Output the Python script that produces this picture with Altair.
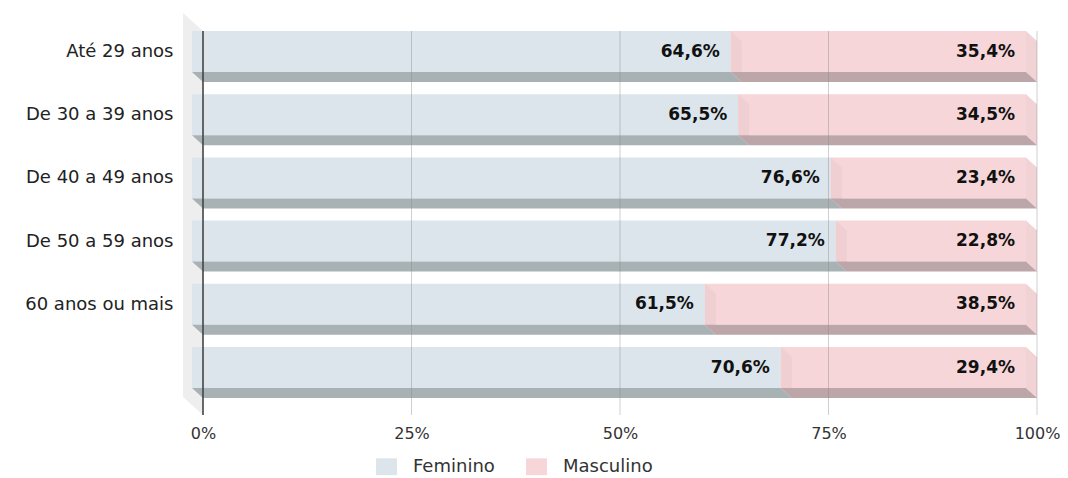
import json
import altair as alt
import pandas as pd

# ---------------- data ----------------
categories = ["Até 29 anos", "De 30 a 39 anos", "De 40 a 49 anos",
              "De 50 a 59 anos", "60 anos ou mais", ""]
feminino = [64.6, 65.5, 76.6, 77.2, 61.5, 70.6]
masculino = [35.4, 34.5, 23.4, 22.8, 38.5, 29.4]
series = ["Feminino", "Masculino"]
x_ticks = [0, 25, 50, 75, 100]

# ---------------- style ----------------
front_colors = ["#dce5eb", "#f6d6d8"]
bottom_colors = ["#a8b1b3", "#bca6a9"]
strip_color = "#f0cfd2"
side_color = "#f1d3d5"
wall_color = "#eeeeee"
FONT = "DejaVu Sans"

# pseudo-3D geometry: y in row units, x in percent units
ROW_TOP = 0.285
FACE_H = 0.649
DEPTH_Y = 0.158
DEPTH_X = 1.32
Y_MAX = 6.361
WALL_X = 2.4


def fmt(v):
    return f"{v:.1f}".replace(".", ",") + "%"


front_rows, bottom_rows, side_rows, label_rows = [], [], [], []
for i, cat in enumerate(categories):
    top = i + ROW_TOP
    bot = top + FACE_H
    segs = [("Feminino", 0.0, feminino[i]),
            ("Masculino", feminino[i], feminino[i] + masculino[i])]
    for k, (s, a, b) in enumerate(segs):
        front_rows.append(dict(series=s, x=a - DEPTH_X, x2=b - DEPTH_X, y=top, y2=bot))
        key = f"{i}-{s}"
        bottom_rows.append(dict(key=key, c=bottom_colors[k], y=bot, x=a - DEPTH_X, x2=b - DEPTH_X))
        bottom_rows.append(dict(key=key, c=bottom_colors[k], y=bot + DEPTH_Y, x=a, x2=b))
        label_rows.append(dict(x=b, y=top + FACE_H / 2, t=fmt(b - a)))
    for name, b, col in [("strip", feminino[i], strip_color),
                         ("side", feminino[i] + masculino[i], side_color)]:
        key = f"{i}-{name}"
        side_rows.append(dict(key=key, c=col, x=b - DEPTH_X, y=top, y2=bot))
        side_rows.append(dict(key=key, c=col, x=b, y=top + DEPTH_Y, y2=bot + DEPTH_Y))

front_df = pd.DataFrame(front_rows)
bottom_df = pd.DataFrame(bottom_rows)
side_df = pd.DataFrame(side_rows)
label_df = pd.DataFrame(label_rows)
wall_df = pd.DataFrame([dict(x=-WALL_X, y=0.0, y2=Y_MAX - ROW_TOP),
                        dict(x=0.0, y=ROW_TOP, y2=Y_MAX)])
grid_df = pd.DataFrame(dict(x=x_ticks, y=ROW_TOP, y2=Y_MAX))

xs = alt.Scale(domain=[0, 100], nice=False, zero=False)
ys = alt.Scale(domain=[0, Y_MAX], reverse=True, nice=False, zero=False)

label_expr = json.dumps(categories, ensure_ascii=False) + \
    f"[round(datum.value - {ROW_TOP + FACE_H / 2})]"

x_axis = alt.Axis(
    values=x_ticks, labelExpr="datum.value + '%'", grid=False, domain=False,
    ticks=False, labelPadding=10, labelFontSize=16, labelFont=FONT,
    labelColor="#333", labelFlush=False, labelOverlap=False, title=None)
y_axis = alt.Axis(
    values=[i + ROW_TOP + FACE_H / 2 for i in range(len(categories))],
    labelExpr=label_expr, grid=False, domain=False, ticks=False,
    labelPadding=30, labelFontSize=18, labelFont=FONT, labelColor="#222",
    title=None)

wall = alt.Chart(wall_df).mark_area(orient="vertical", color=wall_color).encode(
    x=alt.X("x:Q", scale=xs, axis=x_axis),
    y=alt.Y("y:Q", scale=ys, axis=y_axis),
    y2="y2:Q",
)

front = alt.Chart(front_df).mark_bar().encode(
    x=alt.X("x:Q"),
    x2="x2:Q",
    y=alt.Y("y:Q"),
    y2="y2:Q",
    color=alt.Color("series:N", scale=alt.Scale(domain=series, range=front_colors),
                    legend=alt.Legend(
                        orient="none", legendX=173, legendY=443, direction="horizontal",
                        title=None, symbolType="M-1,-0.8H1V0.8H-1Z", symbolSize=441,
                        symbolStrokeWidth=0, labelFontSize=18, labelFont=FONT,
                        labelColor="#333", labelOffset=16, columnPadding=31, padding=0)),
)

sides = alt.Chart(side_df).mark_area(orient="vertical").encode(
    x="x:Q", y="y:Q", y2="y2:Q", detail="key:N",
    color=alt.Color("c:N", scale=None),
)

bottoms = alt.Chart(bottom_df).mark_area(orient="horizontal").encode(
    y="y:Q", x="x:Q", x2="x2:Q", detail="key:N",
    color=alt.Color("c:N", scale=None),
)

grid = alt.Chart(grid_df[grid_df.x > 0]).mark_rule(color="#888888", opacity=0.4, strokeWidth=1).encode(
    x="x:Q", y="y:Q", y2="y2:Q")
zero = alt.Chart(grid_df[grid_df.x == 0]).mark_rule(color="#444444", strokeWidth=1.6).encode(
    x="x:Q", y="y:Q", y2="y2:Q")

labels = alt.Chart(label_df).mark_text(
    align="right", baseline="middle", dx=-22, font=FONT, fontSize=17,
    fontWeight="bold", color="#111111").encode(x="x:Q", y="y:Q", text="t:N")

chart = alt.layer(wall, front, sides, bottoms, grid, zero, labels).resolve_scale(
    color="independent"
).properties(
    width=834, height=402,
    background="white",
    autosize=alt.AutoSizeParams(type="none"),
    padding={"left": 195, "top": 5, "right": 23, "bottom": 63},
).configure_view(strokeWidth=0, stroke="transparent")

chart.save("out.html", embed_options={"renderer": "svg", "actions": False})
